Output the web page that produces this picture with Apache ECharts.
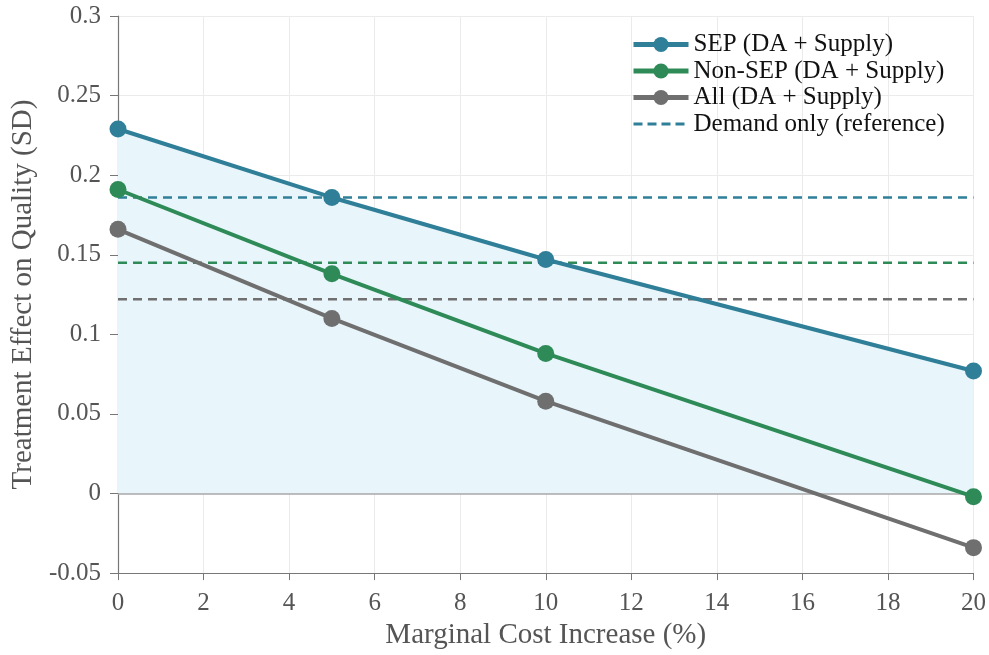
<!DOCTYPE html>
<html><head><meta charset="utf-8">
<script src="https://cdn.jsdelivr.net/npm/echarts@6/dist/echarts.min.js"></script>
<style>html,body{margin:0;padding:0;background:#fff}#c{width:989px;height:655px}</style>
</head><body><div id="c"></div>
<script>
var costIncrease = [0, 5, 10, 20];
var sepValues = [0.229, 0.186, 0.147, 0.077];
var nonSepValues = [0.191, 0.138, 0.088, -0.002];
var allValues = [0.166, 0.110, 0.058, -0.034];
var demandOnly = { sep: 0.186, nonSep: 0.145, all: 0.122 };
var xRange = [0, 20];
var yTickLabels = ['-0.05', '0', '0.05', '0.1', '0.15', '0.2', '0.25', '0.3'];
var seriesNames = ['SEP (DA + Supply)', 'Non-SEP (DA + Supply)', 'All (DA + Supply)', 'Demand only (reference)'];

var FONT = 'Liberation Serif';
var C_SEP = '#2f7f99', C_NON = '#2e8b57', C_ALL = '#6f6f6f';

function pts(vals){ return costIncrease.map(function(x,i){ return [x, vals[i]]; }); }
function hline(v){ return xRange.map(function(x){ return [x, v]; }); }
function lineSeries(name, vals, color){
  return { name: name, type: 'line', data: pts(vals), symbol: 'circle', symbolSize: 17,
    itemStyle: { color: color }, lineStyle: { color: color, width: 4 }, z: 5, animation: false };
}
function dashSeries(name, v, color){
  return { name: name, type: 'line', data: hline(v), symbol: 'none',
    itemStyle: { color: color }, lineStyle: { color: color, width: 2.5, type: [9, 6] }, z: 3, animation: false };
}

var chart = echarts.init(document.getElementById('c'));
chart.setOption({
  animation: false,
  textStyle: { fontFamily: FONT },
  grid: { left: 118, right: 14, top: 16, bottom: 81, containLabel: false },
  legend: {
    data: [
      { name: seriesNames[0], lineStyle: { width: 5 } },
      { name: seriesNames[1], lineStyle: { width: 5 } },
      { name: seriesNames[2], lineStyle: { width: 5 } },
      { name: seriesNames[3], itemStyle: { opacity: 0 }, lineStyle: { width: 3, type: [9, 5] } }
    ],
    orient: 'vertical', left: 626, top: 27, itemWidth: 55, itemHeight: 19, itemGap: 1.5,
    textStyle: { fontFamily: FONT, fontSize: 25, color: '#111', lineHeight: 18 }
  },
  xAxis: {
    type: 'value', min: 0, max: 20, interval: 2,
    name: 'Marginal Cost Increase (%)', nameLocation: 'middle', nameGap: 47,
    nameTextStyle: { fontFamily: FONT, fontSize: 29, color: '#555' },
    axisLine: { onZero: false, lineStyle: { color: '#777', width: 1.2 } },
    axisTick: { show: true, length: 7, lineStyle: { color: '#777' } },
    axisLabel: { fontFamily: FONT, fontSize: 25, color: '#555', margin: 18 },
    splitLine: { show: true, lineStyle: { color: '#ebebeb', width: 1 } }
  },
  yAxis: {
    type: 'value', min: -0.05, max: 0.3, interval: 0.05,
    name: 'Treatment Effect on Quality (SD)', nameLocation: 'middle', nameGap: 80,
    nameTextStyle: { fontFamily: FONT, fontSize: 29, color: '#555' },
    axisLine: { show: true, lineStyle: { color: '#777', width: 1.2 } },
    axisTick: { show: true, length: 8, lineStyle: { color: '#777' } },
    axisLabel: { fontFamily: FONT, fontSize: 25, color: '#555', margin: 17,
      formatter: function(v){ var idx = Math.round((v + 0.05) / 0.05); return yTickLabels[idx] !== undefined ? yTickLabels[idx] : v; } },
    splitLine: { show: true, lineStyle: { color: '#ebebeb', width: 1 } }
  },
  series: [
    { name: 'area', type: 'line', data: pts(sepValues), symbol: 'none', silent: true,
      lineStyle: { width: 0 }, areaStyle: { color: '#e8f5fa', opacity: 1 }, z: 1,
      markLine: { silent: true, symbol: 'none', label: { show: false },
        lineStyle: { color: '#a9a9a9', width: 1.6, type: 'solid' }, data: [{ yAxis: 0 }] } },
    dashSeries(seriesNames[3], demandOnly.sep, C_SEP),
    dashSeries('demand-nonsep', demandOnly.nonSep, C_NON),
    dashSeries('demand-all', demandOnly.all, C_ALL),
    lineSeries(seriesNames[0], sepValues, C_SEP),
    lineSeries(seriesNames[1], nonSepValues, C_NON),
    lineSeries(seriesNames[2], allValues, C_ALL)
  ]
});
</script></body></html>
